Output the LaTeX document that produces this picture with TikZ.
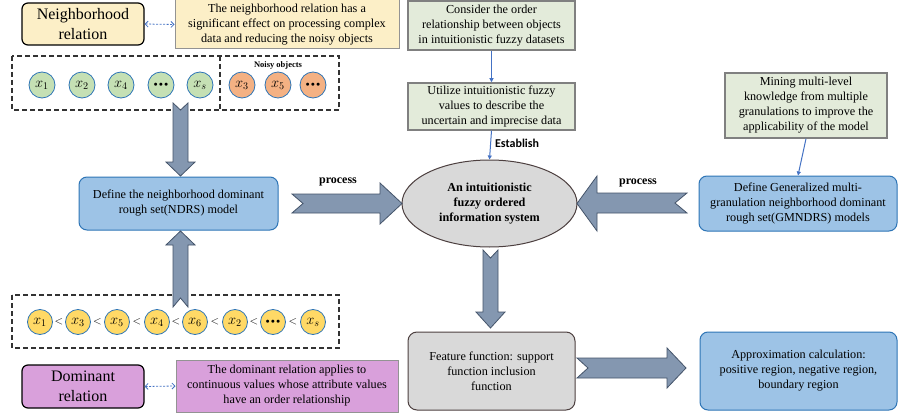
\RequirePackage{fix-cm}
\documentclass[tikz,border=0pt]{standalone}
\usepackage{fontspec}
\setmainfont{Liberation Serif}
\newfontfamily\estfont{Carlito}
\usetikzlibrary{arrows.meta,shapes.geometric,calc}
\definecolor{tanfill}{HTML}{FCEFC7}
\definecolor{purfill}{HTML}{D9A0DB}
\definecolor{grnbox}{HTML}{E3EBDA}
\definecolor{bluefill}{HTML}{9DC3E6}
\definecolor{blueline}{HTML}{2E75B6}
\definecolor{grayfill}{HTML}{D9D9D9}
\definecolor{grayline}{HTML}{4D4040}
\definecolor{barrfill}{HTML}{8497B0}
\definecolor{barrline}{HTML}{44546A}
\definecolor{grncirc}{HTML}{C5E0B4}
\definecolor{orgcirc}{HTML}{F4B183}
\definecolor{ylwcirc}{HTML}{FFD966}
\definecolor{thinblue}{HTML}{4472C4}
\tikzset{
  txt/.style={align=center,font=\fontsize{12.2}{15}\selectfont,inner sep=0pt},
  bigtxt/.style={align=center,font=\fontsize{16}{20}\selectfont,inner sep=0pt},
  relbox/.style={bigtxt,draw=black,line width=1.2pt,rounded corners=6pt},
  notebox/.style={txt,draw=gray!85,line width=1pt},
  grnrect/.style={txt,draw=gray,line width=1.5pt,fill=grnbox},
  bluebox/.style={txt,draw=blueline,line width=1pt,fill=bluefill,rounded corners=8pt},
  graybox/.style={txt,draw=grayline,line width=1pt,fill=grayfill,rounded corners=9pt},
  circ/.style={circle,draw=blueline,line width=0.8pt,inner sep=0pt,minimum size=#1,font=\fontsize{14.5}{14.5}\selectfont},
  blockarr/.style={fill=barrfill,draw=barrline,line width=0.8pt,line join=miter},
  thinarr/.style={draw=thinblue,line width=1pt,-{Triangle[length=4pt,width=4pt]}},
  dasharr/.style={draw=thinblue,line width=0.8pt,dashed,dash pattern=on 2pt off 1.5pt,{Straight Barb[length=3pt,width=6pt]}-{Straight Barb[length=3pt,width=6pt]}},
  dbox/.style={draw=black!80,line width=1.3pt,dash pattern=on 5pt off 3pt},
  lbl/.style={font=\fontsize{12}{12}\selectfont\bfseries,inner sep=0pt}
}
\newcommand{\cdotsdots}{$\scriptscriptstyle\bullet\mkern2mu\bullet\mkern2mu\bullet$}
\begin{document}
\begin{tikzpicture}[x=1pt,y=-1pt]
\useasboundingbox (0,0) rectangle (898,420);
\fill[white] (0,0) rectangle (898,420);

% relation boxes
\node[relbox,fill=tanfill,minimum width=122pt,minimum height=42pt] (nrel) at (83,24) {Neighborhood\\relation};
\node[notebox,fill=tanfill,minimum width=224pt,minimum height=49pt] (ntext) at (287,24.5) {The neighborhood relation has a\\significant effect on processing complex\\data and reducing the noisy objects};
\draw[dasharr] (nrel.east) -- (ntext.west);

\node[relbox,fill=purfill,minimum width=122pt,minimum height=43pt] (drel) at (83,386.5) {Dominant\\relation};
\node[notebox,fill=purfill,minimum width=222pt,minimum height=52pt] (dtext) at (287,386) {The dominant relation applies to\\continuous values whose attribute values\\have an order relationship};
\draw[dasharr] (drel.east) -- (dtext.west);

% top green boxes
\node[grnrect,minimum width=167pt,minimum height=49pt] (consider) at (491.5,25.5) {Consider the order\\relationship between objects\\in intuitionistic fuzzy datasets};
\node[grnrect,minimum width=167pt,minimum height=47pt] (utilize) at (491.5,106.5) {Utilize intuitionistic fuzzy\\values to describe the\\uncertain and imprecise data};
\node[grnrect,minimum width=162pt,minimum height=65pt] (mining) at (806,105.5) {Mining multi-level\\knowledge from multiple\\granulations to improve the\\applicability of the model};

% main nodes
\node[bluebox,minimum width=199pt,minimum height=53pt] (ndrs) at (178.5,203.5) {Define the neighborhood dominant\\rough set(NDRS) model};
\node[ellipse,draw=grayline,line width=1pt,fill=grayfill,minimum width=175pt,minimum height=87pt,inner sep=0pt,align=center,font=\fontsize{12.2}{15}\selectfont\bfseries] (ifois) at (489.5,203.5) {An intuitionistic\\fuzzy ordered\\information system};
\node[bluebox,minimum width=198pt,minimum height=55pt] (gmndrs) at (798,203.5) {Define Generalized multi-\\granulation neighborhood dominant\\rough set(GMNDRS) models};
\node[graybox,minimum width=167pt,minimum height=78pt] (feature) at (491.5,371) {Feature function: support\\function inclusion\\function};
\node[bluebox,minimum width=197pt,minimum height=78pt] (approx) at (798.5,371) {Approximation calculation:\\positive region, negative region,\\boundary region};

% thin arrows
\draw[thinarr] (consider.south) -- (utilize.north);
\draw[thinarr] (utilize.south) -- (ifois.north) node[pos=0.45,right=4pt,font=\estfont\fontsize{12}{12}\selectfont\bfseries,inner sep=0pt] {Establish};
\draw[thinarr] (mining.south) -- (gmndrs.north);

% dashed object groups
\draw[dbox] (12,56) rectangle (339,110);
\draw[dbox] (220,56) -- (220,110);
\node[font=\fontsize{8.5}{8.5}\selectfont\bfseries,inner sep=0pt] (noisy) at (278,65) {Noisy objects};
\foreach \x/\l [count=\i] in {42/{$x_1$},82/{$x_2$},121/{$x_4$},161/{\cdotsdots},200/{$x_s$}}
  \node[circ=26pt,fill=grncirc] (g\i) at (\x,85) {\l};
\foreach \x/\l [count=\i] in {242/{$x_3$},278/{$x_5$},313/{\cdotsdots}}
  \node[circ=26pt,fill=orgcirc] (o\i) at (\x,85) {\l};

\draw[dbox] (12,295) rectangle (339,348);
\foreach \x/\l [count=\i] in {40/{$x_1$},78/{$x_3$},117/{$x_5$},157/{$x_4$},195/{$x_6$},235/{$x_2$},273/{\cdotsdots},313/{$x_s$}}
  \node[circ=25pt,fill=ylwcirc] (y\i) at (\x,322) {\l};
\foreach \a/\b in {1/2,2/3,3/4,4/5,5/6,6/7,7/8}
  \node[inner sep=0pt,font=\fontsize{11}{11}\selectfont] (lt\a) at ($(y\a.east)!0.5!(y\b.west)$) {$<$};

% block arrows
\draw[blockarr] (173,103) -- (180.5,110) -- (188,103) -- (188,162) -- (195,162) -- (180.5,176) -- (166,162) -- (173,162) -- cycle;
\draw[blockarr] (173,307) -- (180.5,298) -- (188,307) -- (188,245) -- (195,245) -- (180.5,231) -- (166,245) -- (173,245) -- cycle;
\draw[blockarr] (292,194) -- (380,194) -- (380,183) -- (402,203.5) -- (380,224) -- (380,213) -- (292,213) -- (303,203.5) -- cycle;
\draw[blockarr] (687,193) -- (597,193) -- (597,176) -- (577,203.5) -- (597,231) -- (597,213) -- (687,213) -- (675,203) -- cycle;
\draw[blockarr] (483,250) -- (490.5,258) -- (498,250) -- (498,312) -- (505,312) -- (490.5,328) -- (476,312) -- (483,312) -- cycle;
\draw[blockarr] (577,358) -- (667,358) -- (667,348) -- (686,368) -- (667,388) -- (667,378) -- (577,378) -- (588,368) -- cycle;

\node[lbl] (p1) at (338,182) {process};
\node[lbl] (p2) at (638,183) {process};
\end{tikzpicture}
\end{document}
